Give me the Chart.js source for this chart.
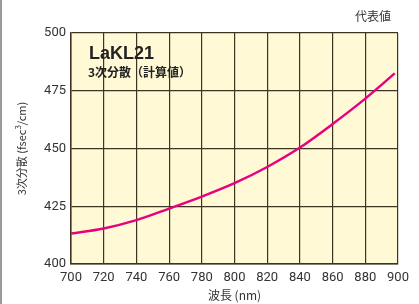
<!DOCTYPE html>
<html>
<head>
<meta charset="utf-8">
<script src="https://cdn.jsdelivr.net/npm/chart.js@4"></script>
<style>
  html, body { margin: 0; padding: 0; background: #fff; }
  #wrap { position: relative; width: 419px; height: 304px; border-left: 2px solid #9a9a9a; box-sizing: border-box; }
</style>
</head>
<body>
<div id="wrap"><canvas id="chart" width="417" height="304"></canvas></div>
<script>
// wavelength (nm) and 3rd order dispersion (fsec^3/cm)
const wavelengths = [700, 720, 740, 760, 780, 800, 820, 840, 860, 880, 898];
const dispersion = [413.2, 415.4, 419.0, 424.0, 429.2, 435.0, 442.0, 450.4, 460.6, 471.6, 482.5];
const xTicks = [700, 720, 740, 760, 780, 800, 820, 840, 860, 880, 900];
const yTicks = [400, 425, 450, 475, 500];

const tickFont = { family: "'Liberation Sans Narrow', 'Roboto', sans-serif", size: 13 };

// plot background + texts
const decor = {
    id: 'decor',
    beforeDraw(chart) {
        const { ctx, chartArea: a } = chart;
        ctx.save();
        ctx.fillStyle = '#fff9d6';
        ctx.fillRect(a.left, a.top, a.right - a.left, a.bottom - a.top);
        ctx.restore();
    },
    afterDraw(chart) {
        const { ctx, chartArea: a } = chart;
        ctx.save();
        ctx.fillStyle = '#222';
        ctx.font = "bold 18px 'Liberation Sans', sans-serif";
        ctx.textBaseline = 'alphabetic';
        ctx.fillText('LaKL21', a.left + 18, 59);
        ctx.font = "bold 12px 'Noto Sans CJK JP', sans-serif";
        ctx.fillText('3次分散（計算値）', a.left + 17, 77);
        ctx.fillStyle = '#333';
        ctx.font = "12px 'Noto Sans CJK JP', sans-serif";
        ctx.textAlign = 'right';
        ctx.fillText('代表値', 389, 21);
        ctx.textAlign = 'center';
        ctx.fillText('波長 (nm)', (a.left + a.right) / 2, 300);
        // y title, rotated
        ctx.translate(20, (a.top + a.bottom) / 2);
        ctx.rotate(-Math.PI / 2);
        ctx.font = "11px 'Noto Sans CJK JP', sans-serif";
        const t1 = '3次分散 (fsec', t2 = '3', t3 = '/cm)';
        const w1 = ctx.measureText(t1).width, w3 = ctx.measureText(t3).width;
        ctx.font = "8px 'Noto Sans CJK JP', sans-serif";
        const w2 = ctx.measureText(t2).width;
        let x = -(w1 + w2 + w3) / 2;
        ctx.textAlign = 'left';
        ctx.font = "11px 'Noto Sans CJK JP', sans-serif";
        ctx.fillText(t1, x, 4);
        ctx.font = "8px 'Noto Sans CJK JP', sans-serif";
        ctx.fillText(t2, x + w1, -1);
        ctx.font = "11px 'Noto Sans CJK JP', sans-serif";
        ctx.fillText(t3, x + w1 + w2, 4);
        ctx.restore();
    }
};

new Chart(document.getElementById('chart').getContext('2d'), {
    type: 'line',
    data: {
        datasets: [{
            data: wavelengths.map((w, i) => ({ x: w, y: dispersion[i] })),
            borderColor: '#e8007f',
            borderWidth: 2.5,
            pointRadius: 0,
            cubicInterpolationMode: 'monotone',
            fill: false
        }]
    },
    options: {
        responsive: false,
        animation: false,
        layout: { padding: { top: 33, right: 21, left: 0, bottom: 0 } },
        plugins: { legend: { display: false }, tooltip: { enabled: false } },
        scales: {
            x: {
                type: 'linear', min: 700, max: 900,
                afterBuildTicks: s => { s.ticks = xTicks.map(v => ({ value: v })); },
                afterFit: s => { s.height = 40; },
                grid: { color: '#3d3424', lineWidth: 1.2, drawTicks: false },
                border: { color: '#3d3424', width: 1.5 },
                ticks: { color: '#333', font: tickFont, padding: 6, maxRotation: 0 }
            },
            y: {
                min: 400, max: 500,
                afterBuildTicks: s => { s.ticks = yTicks.map(v => ({ value: v })); },
                afterFit: s => { s.width = 69; },
                grid: { color: '#3d3424', lineWidth: 1.2, drawTicks: false },
                border: { color: '#3d3424', width: 1.5 },
                ticks: { color: '#333', font: tickFont, padding: 5 }
            }
        }
    },
    plugins: [decor]
});
</script>
</body>
</html>
